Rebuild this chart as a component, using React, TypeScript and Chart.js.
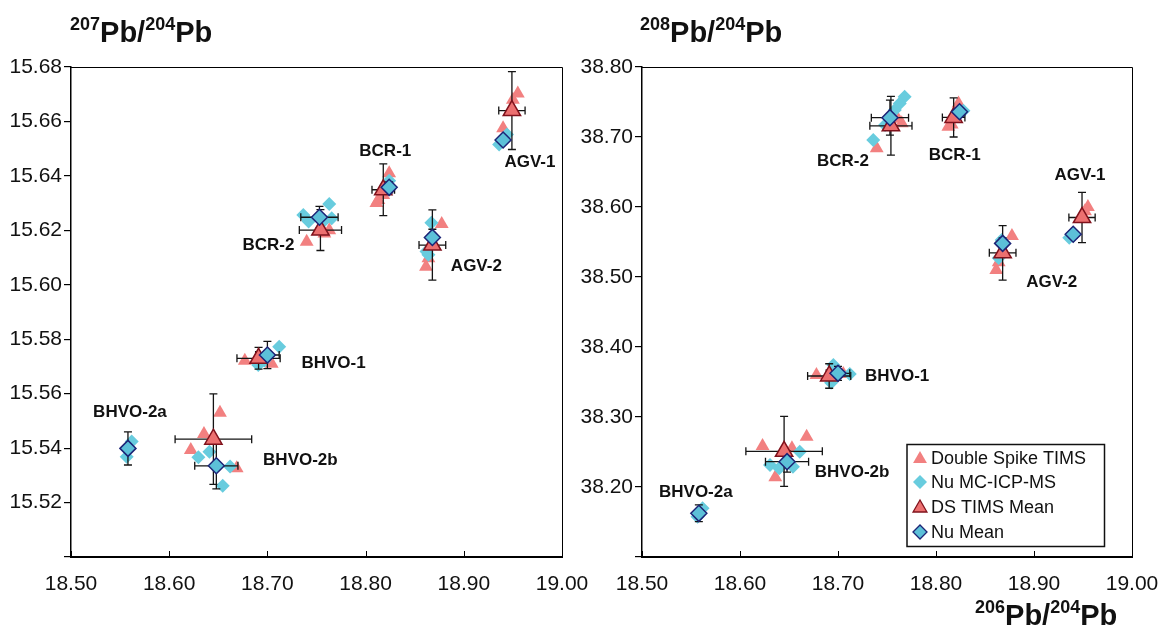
import React, { useEffect, useRef } from 'react';
import { Chart, registerables } from 'chart.js';
Chart.register(...registerables);

// ---------------- DATA ----------------
const samples = ['AGV-1', 'BCR-1', 'BCR-2', 'AGV-2', 'BHVO-1', 'BHVO-2a', 'BHVO-2b'];

// Means (206Pb/204Pb shared by both panels)
const dsMeanX = [18.949, 18.818, 18.754, 18.868, 18.691, null, 18.645];
const dsMeanXErr = [0.0134, 0.0115, 0.0215, 0.0136, 0.022, null, 0.039];
const dsMean207 = [15.664, 15.6349, 15.6201, 15.6146, 15.573, null, 15.5433];
const dsMean207Err = [0.0143, 0.0095, 0.0075, 0.0129, 0.004, null, 0.0166];
const dsMean208 = [38.585, 38.728, 38.716, 38.5345, 38.3586, null, 38.251];
const dsMean208Err = [0.036, 0.028, 0.042, 0.039, 0.0175, null, 0.05];

const nuMeanX = [18.94, 18.824, 18.753, 18.868, 18.7, 18.558, 18.648];
const nuMeanXErr = [0.004, 0.004, 0.019, 0.004, 0.012, 0.003, 0.022];
const nuMean207 = [15.6532, 15.6358, 15.6248, 15.6174, 15.5742, 15.5399, 15.5335];
const nuMean207Err = [0.0015, 0.002, 0.004, 0.003, 0.005, 0.0061, 0.0085];
const nuMean208 = [38.561, 38.736, 38.7276, 38.548, 38.3624, 38.1624, 38.2362];
const nuMean208Err = [0.005, 0.006, 0.025, 0.008, 0.01, 0.012, 0.015];

// Individual analyses, 207Pb/204Pb panel
const ds207X = [18.955, 18.95, 18.94, 18.824, 18.813, 18.811, 18.818, 18.74, 18.763, 18.758, 18.8775, 18.8615, 18.864, 18.677, 18.7044, 18.69, 18.6517, 18.6354, 18.622, 18.6687];
const ds207Y = [15.6703, 15.668, 15.6575, 15.641, 15.6311, 15.63, 15.633, 15.6158, 15.62, 15.6188, 15.6223, 15.6066, 15.6097, 15.5721, 15.571, 15.5727, 15.553, 15.5452, 15.5393, 15.5326];
const nu207X = [18.936, 18.94, 18.944, 18.824, 18.821, 18.763, 18.7366, 18.742, 18.7655, 18.758, 18.867, 18.864, 18.862, 18.712, 18.6907, 18.697, 18.5618, 18.5567, 18.6297, 18.641, 18.662, 18.6545];
const nu207Y = [15.6515, 15.6535, 15.6552, 15.6382, 15.6366, 15.6297, 15.6256, 15.6232, 15.6244, 15.6236, 15.6228, 15.611, 15.6122, 15.5772, 15.5705, 15.5722, 15.5424, 15.5368, 15.5366, 15.5387, 15.5332, 15.5262];

// Individual analyses, 208Pb/204Pb panel
const ds208X = [18.955, 18.952, 18.823, 18.8126, 18.816, 18.765, 18.761, 18.7395, 18.8775, 18.8615, 18.864, 18.678, 18.7054, 18.623, 18.668, 18.636, 18.653];
const ds208Y = [38.6, 38.594, 38.748, 38.7147, 38.718, 38.7196, 38.726, 38.6839, 38.5586, 38.51, 38.521, 38.36, 38.3614, 38.2586, 38.2719, 38.2139, 38.2553];
const nu208X = [18.936, 18.94, 18.828, 18.82, 18.768, 18.763, 18.758, 18.748, 18.736, 18.867, 18.864, 18.6953, 18.712, 18.693, 18.5618, 18.5567, 18.6306, 18.64, 18.661, 18.654];
const nu208Y = [38.556, 38.559, 38.7376, 38.731, 38.7576, 38.748, 38.7386, 38.717, 38.6957, 38.553, 38.527, 38.3743, 38.3614, 38.349, 38.1695, 38.1576, 38.2314, 38.2267, 38.2504, 38.229];

const legendLabels = ['Double Spike TIMS', 'Nu MC-ICP-MS', 'DS TIMS Mean', 'Nu Mean'];

// ---------------- STYLE / LAYOUT ----------------
const DS_FILL = 'rgb(242,128,128)';
const NU_FILL = 'rgb(104,204,222)';
const DS_MEAN_FILL = 'rgb(236,112,112)';
const DS_MEAN_BORDER = 'rgb(128,18,28)';
const NU_MEAN_FILL = 'rgb(92,192,216)';
const NU_MEAN_BORDER = 'rgb(28,36,118)';

const SANS = '"Liberation Sans", Arial, Helvetica, sans-serif';

// pixel offsets of sample labels from their mean marker
const labelOffsets207: Record<string, [number, number]> = {
  'AGV-1': [18, 52], 'BCR-1': [2, -38], 'BCR-2': [-52, 15], 'AGV-2': [44, 21],
  'BHVO-1': [75, 5], 'BHVO-2a': [2, -36], 'BHVO-2b': [87, 21],
};
const labelOffsets208: Record<string, [number, number]> = {
  'AGV-1': [-2, -42], 'BCR-1': [1, 38], 'BCR-2': [-48, 36], 'AGV-2': [49, 29],
  'BHVO-1': [68, 0], 'BHVO-2a': [-3, -21], 'BHVO-2b': [68, 21],
};

const pts = (xs: (number | null)[], ys: (number | null)[]) =>
  xs.map((x, i) => (x == null || ys[i] == null ? null : { x, y: ys[i] as number })).filter(Boolean) as any[];

function tri(ctx: CanvasRenderingContext2D, x: number, y: number, r: number) {
  ctx.beginPath();
  for (let k = 0; k < 3; k++) {
    const a = -Math.PI / 2 + (k * 2 * Math.PI) / 3;
    const px = x + r * Math.cos(a), py = y + r * Math.sin(a);
    k === 0 ? ctx.moveTo(px, py) : ctx.lineTo(px, py);
  }
  ctx.closePath();
}
function dia(ctx: CanvasRenderingContext2D, x: number, y: number, r: number) {
  ctx.beginPath();
  ctx.moveTo(x - r, y); ctx.lineTo(x, y - r); ctx.lineTo(x + r, y); ctx.lineTo(x, y + r);
  ctx.closePath();
}

function drawIso(ctx: CanvasRenderingContext2D, x: number, base: number, a: string, b: string) {
  const parts: [string, boolean][] = [[a, true], ['Pb/', false], [b, true], ['Pb', false]];
  let cx = x;
  ctx.fillStyle = '#111';
  ctx.textBaseline = 'alphabetic';
  ctx.textAlign = 'left';
  for (const [t, sup] of parts) {
    ctx.font = `bold ${sup ? 18 : 29}px ${SANS}`;
    ctx.fillText(t, cx, sup ? base - 12 : base);
    cx += ctx.measureText(t).width;
  }
}

type Panel = {
  key: string; left: number; width: number; yMin: number; yMax: number; yStep: number;
  yAxisW: number; padRight: number;
  dsX: number[]; dsY: number[]; nuX: number[]; nuY: number[];
  dsMeanY: (number | null)[]; dsMeanYErr: (number | null)[];
  nuMeanY: number[]; nuMeanYErr: number[];
  offsets: Record<string, [number, number]>;
  titles: { x: number; y: number; a: string; b: string }[];
  legend: boolean;
};

const panels: Panel[] = [
  {
    key: 'p207', left: 0, width: 600, yMin: 15.5, yMax: 15.68, yStep: 0.02, yAxisW: 71, padRight: 38,
    dsX: ds207X, dsY: ds207Y, nuX: nu207X, nuY: nu207Y,
    dsMeanY: dsMean207, dsMeanYErr: dsMean207Err, nuMeanY: nuMean207, nuMeanYErr: nuMean207Err,
    offsets: labelOffsets207,
    titles: [{ x: 70, y: 42, a: '207', b: '204' }],
    legend: false,
  },
  {
    key: 'p208', left: 570, width: 594, yMin: 38.1, yMax: 38.8, yStep: 0.1, yAxisW: 72, padRight: 32,
    dsX: ds208X, dsY: ds208Y, nuX: nu208X, nuY: nu208Y,
    dsMeanY: dsMean208, dsMeanYErr: dsMean208Err, nuMeanY: nuMean208, nuMeanYErr: nuMean208Err,
    offsets: labelOffsets208,
    titles: [{ x: 70, y: 42, a: '208', b: '204' }, { x: 405, y: 625, a: '206', b: '204' }],
    legend: true,
  },
];

function overlay(p: Panel) {
  const drawBars = (chart: any) => {
    const { ctx } = chart;
    const xs = chart.scales.x, ys = chart.scales.y;
    ctx.save();
    ctx.strokeStyle = '#141414';
    ctx.lineWidth = 1.3;
    const bar = (x: number, y: number, xe: number, ye: number) => {
      const px = xs.getPixelForValue(x), py = ys.getPixelForValue(y);
      const x0 = xs.getPixelForValue(x - xe), x1 = xs.getPixelForValue(x + xe);
      const y0 = ys.getPixelForValue(y + ye), y1 = ys.getPixelForValue(y - ye);
      const c = 4;
      ctx.beginPath();
      ctx.moveTo(x0, py); ctx.lineTo(x1, py);
      ctx.moveTo(x0, py - c); ctx.lineTo(x0, py + c);
      ctx.moveTo(x1, py - c); ctx.lineTo(x1, py + c);
      ctx.moveTo(px, y0); ctx.lineTo(px, y1);
      ctx.moveTo(px - c, y0); ctx.lineTo(px + c, y0);
      ctx.moveTo(px - c, y1); ctx.lineTo(px + c, y1);
      ctx.stroke();
    };
    samples.forEach((s, i) => {
      if (dsMeanX[i] != null && p.dsMeanY[i] != null)
        bar(dsMeanX[i] as number, p.dsMeanY[i] as number, dsMeanXErr[i] as number, p.dsMeanYErr[i] as number);
      bar(nuMeanX[i], p.nuMeanY[i], nuMeanXErr[i], p.nuMeanYErr[i]);
    });
    ctx.restore();
  };
  return {
    id: 'overlay_' + p.key,
    beforeDatasetDraw(chart: any, args: any) {
      if (args.index === 2) drawBars(chart);
    },
    afterDraw(chart: any) {
      const { ctx, chartArea: a } = chart;
      const xs = chart.scales.x, ys = chart.scales.y;
      ctx.save();
      // top / right frame
      ctx.strokeStyle = '#000';
      ctx.lineWidth = 1;
      ctx.beginPath();
      ctx.moveTo(a.left, a.top + 0.5);
      ctx.lineTo(a.right + 0.5, a.top + 0.5);
      ctx.lineTo(a.right + 0.5, a.bottom);
      ctx.stroke();
      // inward x ticks
      xs.ticks.forEach((t: any) => {
        const px = Math.round(xs.getPixelForValue(t.value)) + 0.5;
        ctx.beginPath(); ctx.moveTo(px, a.bottom); ctx.lineTo(px, a.bottom - 6); ctx.stroke();
      });
      // sample labels
      ctx.fillStyle = '#111';
      ctx.font = `bold 17px ${SANS}`;
      ctx.textAlign = 'center';
      ctx.textBaseline = 'middle';
      samples.forEach((s, i) => {
        const hasDs = dsMeanX[i] != null && p.dsMeanY[i] != null;
        const ax = hasDs ? (dsMeanX[i] as number) : nuMeanX[i];
        const ay = hasDs ? (p.dsMeanY[i] as number) : p.nuMeanY[i];
        const [ox, oy] = p.offsets[s];
        ctx.fillText(s, xs.getPixelForValue(ax) + ox, ys.getPixelForValue(ay) + oy);
      });
      // titles
      p.titles.forEach((t) => drawIso(ctx, t.x, t.y, t.a, t.b));
      // legend
      if (p.legend) {
        const L = 337, T = 444.5, R = 534.5, B = 546.5;
        ctx.fillStyle = '#fff';
        ctx.fillRect(L, T, R - L, B - T);
        ctx.strokeStyle = '#111';
        ctx.lineWidth = 1.5;
        ctx.strokeRect(L, T, R - L, B - T);
        const rows = [458, 482, 507, 532];
        const sx = 350;
        ctx.lineWidth = 1.3;
        tri(ctx, sx, rows[0] + 1, 8); ctx.fillStyle = DS_FILL; ctx.fill();
        dia(ctx, sx, rows[1], 7); ctx.fillStyle = NU_FILL; ctx.fill();
        tri(ctx, sx, rows[2] + 1, 8); ctx.fillStyle = DS_MEAN_FILL; ctx.fill(); ctx.strokeStyle = DS_MEAN_BORDER; ctx.stroke();
        dia(ctx, sx, rows[3], 7); ctx.fillStyle = NU_MEAN_FILL; ctx.fill(); ctx.strokeStyle = NU_MEAN_BORDER; ctx.stroke();
        ctx.fillStyle = '#111';
        ctx.font = `18px ${SANS}`;
        ctx.textAlign = 'left';
        ctx.textBaseline = 'middle';
        legendLabels.forEach((l, k) => ctx.fillText(l, 361, rows[k] + 1));
      }
      ctx.restore();
    },
  };
}

function PanelChart({ p }: { p: Panel }) {
  const ref = useRef<HTMLCanvasElement>(null);
  useEffect(() => {
    const xFont = { family: SANS, size: 21, lineHeight: 2.15 };
    const yFont = { family: SANS, size: 21, lineHeight: 1.2 };
    const chart = new Chart(ref.current!, {
      type: 'scatter',
      data: {
        datasets: [
          { label: 'DS', data: pts(p.dsX, p.dsY), pointStyle: 'triangle', pointRadius: 8, backgroundColor: DS_FILL, borderColor: DS_FILL, borderWidth: 0, order: 4 },
          { label: 'Nu', data: pts(p.nuX, p.nuY), pointStyle: 'rectRot', pointRadius: 7, backgroundColor: NU_FILL, borderColor: NU_FILL, borderWidth: 0, order: 3 },
          { label: 'DS mean', data: pts(dsMeanX, p.dsMeanY), pointStyle: 'triangle', pointRadius: 10, backgroundColor: DS_MEAN_FILL, borderColor: DS_MEAN_BORDER, borderWidth: 1.5, order: 2 },
          { label: 'Nu mean', data: pts(nuMeanX, p.nuMeanY), pointStyle: 'rectRot', pointRadius: 8, backgroundColor: NU_MEAN_FILL, borderColor: NU_MEAN_BORDER, borderWidth: 1.5, order: 1 },
        ],
      },
      options: {
        responsive: false,
        animation: false,
        events: [],
        layout: { padding: { top: 67, right: p.padRight, left: 0, bottom: 0 } },
        plugins: { legend: { display: false }, tooltip: { enabled: false } },
        scales: {
          x: {
            type: 'linear', min: 18.5, max: 19.0,
            afterFit: (s: any) => { s.height = 76; },
            ticks: { stepSize: 0.1, padding: 5, color: '#111', font: xFont, callback: (v: any) => Number(v).toFixed(2), maxRotation: 0 },
            grid: { display: true, drawOnChartArea: false, drawTicks: false },
            border: { display: true, color: '#000', width: 2 },
          },
          y: {
            type: 'linear', min: p.yMin, max: p.yMax,
            afterFit: (s: any) => { s.width = p.yAxisW; },
            ticks: {
              stepSize: p.yStep, padding: 2, color: '#111', font: yFont,
              callback: (v: any) => (Math.abs(Number(v) - p.yMin) < 1e-9 ? '' : Number(v).toFixed(2)),
            },
            grid: { display: true, drawOnChartArea: false, drawTicks: true, tickLength: 7, color: '#000', lineWidth: 1.2 },
            border: { display: true, color: '#000', width: 1.5 },
          },
        },
      },
      plugins: [overlay(p)],
    } as any);
    return () => chart.destroy();
  }, []);
  return (
    <div style={{ position: 'absolute', left: p.left, top: 0, width: p.width, height: 633 }}>
      <canvas ref={ref} width={p.width} height={633} style={{ width: p.width, height: 633, display: 'block' }} />
    </div>
  );
}

export default function App() {
  return (
    <div style={{ position: 'fixed', left: 0, top: 0, width: 1164, height: 633, background: '#fff' }}>
      {panels.map((p) => (
        <PanelChart key={p.key} p={p} />
      ))}
    </div>
  );
}
